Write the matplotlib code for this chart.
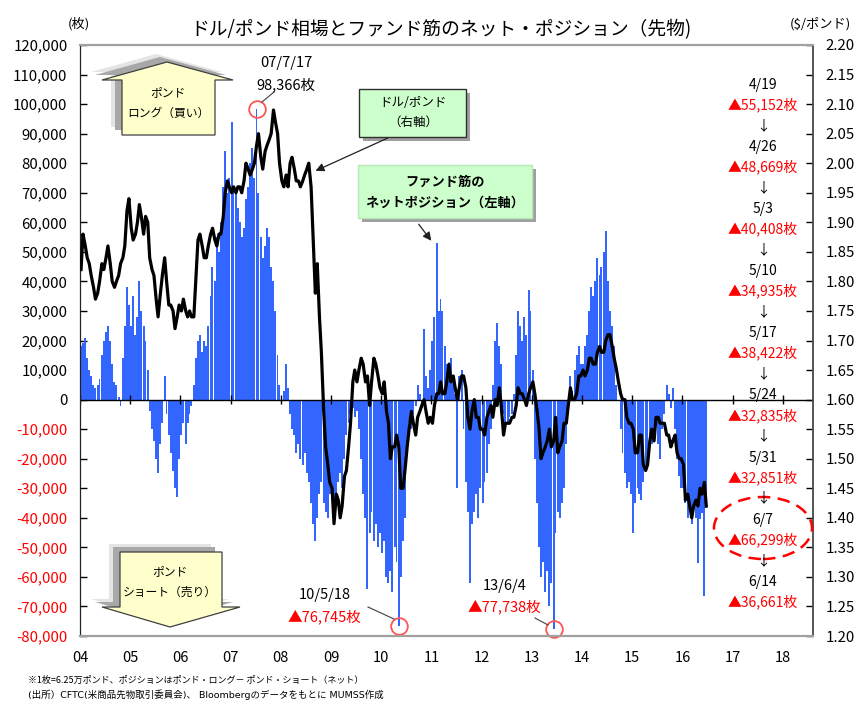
import numpy as np
import pandas as pd
import matplotlib
matplotlib.use('Agg')
import matplotlib.pyplot as plt
from matplotlib.patches import Polygon, Ellipse, Rectangle, FancyArrowPatch

plt.rcParams['font.family'] = ['Noto Sans CJK JP', 'DejaVu Sans']

# ---------------- data (semi-monthly, 1st and 15th of each month) ----------------
bars_2004 = [18, 19, 21, 14, 10, 8, 5, 4, 5, 7, 15, 20, 23, 25, 20, 12, 6, 5, 1, -2, 14, 25, 38, 32]
bars_2005 = [25, 35, 22, 28, 40, 30, 25, 20, 10, -4, -10, -14, -20, -25, -15, -8, 8, -5, -12, -18, -24, -30, -33, -20]
bars_2006 = [-12, -8, -15, -8, -5, -2, 5, 14, 20, 22, 16, 20, 18, 25, 35, 45, 40, 55, 50, 60, 72, 84, 70, 75]
bars_2007 = [94, 72, 70, 65, 60, 55, 58, 68, 72, 80, 85, 75, 98.366, 70, 55, 48, 52, 58, 55, 45, 40, 30, 15, 5]
bars_2008 = [0, 3, 12, 4, -5, -10, -12, -18, -15, -20, -22, -18, -25, -28, -35, -42, -48, -40, -32, -28, -35, -38, -40, -32]
bars_2009 = [-30, -38, -32, -28, -25, -30, -20, -12, -8, -5, -3, -6, -4, -10, -20, -32, -40, -64, -45, -38, -48, -42, -50, -45]
bars_2010 = [-52, -48, -60, -62, -58, -65, -50, -55, -76.745, -60, -48, -40, -15, -8, -10, -5, -2, 5, 2, -3, 24, 8, 4, 10]
bars_2011 = [20, 28, 53, 30, 34, 30, 18, 12, 10, 14, 6, 2, -30, 8, 10, -10, -28, -38, -62, -42, -38, -32, -40, -30]
bars_2012 = [-35, -28, -25, -15, -10, 5, 20, 26, 18, 12, -5, -10, -8, -6, -5, 2, 15, 30, 25, 20, 28, 22, 37, 30]
bars_2013 = [10, -20, -35, -50, -60, -55, -65, -58, -70, -62, -77.738, -45, -38, -40, -35, -30, -15, 0, 8, 3, 10, 15, 18, 12]
bars_2014 = [12, 18, 22, 30, 38, 35, 40, 48, 42, 45, 50, 57, 40, 30, 25, 18, 5, 0, -10, -18, -25, -30, -28, -32]
bars_2015 = [-45, -35, -30, -32, -34, -28, -22, -18, -12, -15, -10, -8, -15, -20, -10, -5, 5, 2, -3, 4, -10, -20, -26, -30]
bars_2016 = [-30, -35, -40, -38, -42, -35, -40, -55.152, -40.408, -38.422, -66.299, -36.661]

gbp_2004 = [1.82, 1.88, 1.86, 1.84, 1.83, 1.81, 1.79, 1.77, 1.78, 1.80, 1.83, 1.82, 1.84, 1.86, 1.83, 1.80, 1.79, 1.80, 1.81, 1.83, 1.84, 1.86, 1.92, 1.94]
gbp_2005 = [1.89, 1.87, 1.88, 1.90, 1.93, 1.91, 1.88, 1.91, 1.90, 1.84, 1.82, 1.81, 1.77, 1.74, 1.78, 1.81, 1.84, 1.80, 1.76, 1.76, 1.75, 1.72, 1.74, 1.76]
gbp_2006 = [1.75, 1.77, 1.75, 1.74, 1.75, 1.74, 1.74, 1.80, 1.87, 1.88, 1.86, 1.84, 1.84, 1.86, 1.88, 1.89, 1.87, 1.86, 1.88, 1.88, 1.91, 1.95, 1.97, 1.96]
gbp_2007 = [1.95, 1.96, 1.95, 1.96, 1.96, 1.95, 1.97, 2.00, 1.99, 1.98, 1.99, 2.00, 2.03, 2.05, 2.01, 1.99, 2.02, 2.03, 2.04, 2.05, 2.09, 2.07, 2.05, 2.00]
gbp_2008 = [1.97, 1.96, 1.98, 1.96, 2.00, 2.01, 1.99, 1.97, 1.97, 1.96, 1.97, 1.98, 1.99, 2.00, 1.96, 1.88, 1.78, 1.83, 1.74, 1.68, 1.58, 1.52, 1.49, 1.46]
gbp_2009 = [1.45, 1.39, 1.44, 1.43, 1.40, 1.42, 1.47, 1.48, 1.52, 1.56, 1.63, 1.65, 1.63, 1.65, 1.67, 1.66, 1.63, 1.64, 1.59, 1.63, 1.67, 1.66, 1.64, 1.62]
gbp_2010 = [1.61, 1.63, 1.58, 1.56, 1.50, 1.52, 1.52, 1.54, 1.52, 1.45, 1.45, 1.48, 1.52, 1.55, 1.58, 1.56, 1.54, 1.57, 1.58, 1.59, 1.60, 1.58, 1.56, 1.57]
gbp_2011 = [1.56, 1.59, 1.61, 1.61, 1.63, 1.61, 1.61, 1.63, 1.66, 1.63, 1.64, 1.62, 1.60, 1.62, 1.64, 1.64, 1.62, 1.57, 1.55, 1.58, 1.60, 1.57, 1.57, 1.55]
gbp_2012 = [1.55, 1.54, 1.57, 1.58, 1.59, 1.57, 1.60, 1.59, 1.62, 1.59, 1.54, 1.56, 1.56, 1.56, 1.57, 1.57, 1.59, 1.62, 1.61, 1.61, 1.60, 1.59, 1.61, 1.62]
gbp_2013 = [1.63, 1.61, 1.58, 1.55, 1.50, 1.51, 1.52, 1.53, 1.55, 1.52, 1.53, 1.57, 1.51, 1.52, 1.53, 1.56, 1.56, 1.59, 1.62, 1.60, 1.60, 1.61, 1.64, 1.64]
gbp_2014 = [1.65, 1.64, 1.65, 1.67, 1.67, 1.66, 1.66, 1.68, 1.69, 1.68, 1.68, 1.70, 1.71, 1.71, 1.69, 1.67, 1.65, 1.63, 1.61, 1.60, 1.60, 1.57, 1.56, 1.56]
gbp_2015 = [1.55, 1.51, 1.51, 1.54, 1.54, 1.49, 1.48, 1.49, 1.53, 1.55, 1.53, 1.57, 1.57, 1.56, 1.56, 1.56, 1.54, 1.54, 1.52, 1.53, 1.54, 1.51, 1.50, 1.50]
gbp_2016 = [1.49, 1.43, 1.44, 1.42, 1.40, 1.42, 1.43, 1.42, 1.45, 1.44, 1.46, 1.42]

net_position = np.array(bars_2004 + bars_2005 + bars_2006 + bars_2007 + bars_2008 + bars_2009 + bars_2010 +
                        bars_2011 + bars_2012 + bars_2013 + bars_2014 + bars_2015 + bars_2016) * 1000
gbpusd = np.array(gbp_2004 + gbp_2005 + gbp_2006 + gbp_2007 + gbp_2008 + gbp_2009 + gbp_2010 +
                  gbp_2011 + gbp_2012 + gbp_2013 + gbp_2014 + gbp_2015 + gbp_2016)

dates = pd.date_range('2004-01-01', periods=len(net_position), freq='SMS')
tyear = np.array(dates.year + (dates.dayofyear - 1) / np.where(dates.is_leap_year, 366, 365), dtype=float)

year_ticks = list(range(2004, 2019))
year_labels = ['04', '05', '06', '07', '08', '09', '10', '11', '12', '13', '14', '15', '16', '17', '18']
left_ticks = list(range(-80000, 120001, 10000))
right_ticks = [round(1.20 + 0.05 * i, 2) for i in range(21)]

recent_dates = ['4/19', '4/26', '5/3', '5/10', '5/17', '5/24', '5/31', '6/7', '6/14']
recent_values = ['▲55,152枚', '▲48,669枚', '▲40,408枚', '▲34,935枚', '▲38,422枚',
                 '▲32,835枚', '▲32,851枚', '▲66,299枚', '▲36,661枚']

# ---------------- figure ----------------
W, H = 867, 702
fig = plt.figure(figsize=(W / 100, H / 100), dpi=100)
fig.patch.set_facecolor('white')


def fx(x):
    return x / W


def fy(y):
    return 1 - y / H


ax = fig.add_axes([fx(80), fy(636), (813 - 80) / W, (636 - 45) / H])
ax2 = ax.twinx()

BLUE = '#3366FF'
RED = '#FF0000'
step = 1 / 24
ax.bar(tyear, net_position, width=step * 0.92, align='edge', color=BLUE, edgecolor='none', linewidth=0, zorder=2)
ax.axhline(0, color='black', lw=1.0, zorder=3)
ax.vlines(year_ticks, -1400, 1400, color='black', lw=1.0, zorder=3)

ax.set_xlim(2004, 2018.6)
ax.set_ylim(-80000, 120000)
ax.set_xticks(year_ticks)
ax.set_xticklabels(year_labels)
ax.tick_params(axis='x', length=0, pad=11, labelsize=10.5)
ax.set_yticks(left_ticks)
ax.set_yticklabels([f'{v:,}' for v in left_ticks])
ax.tick_params(axis='y', direction='in', length=5, width=1, pad=9, labelsize=10.8)
for lab, v in zip(ax.get_yticklabels(), left_ticks):
    if v < 0:
        lab.set_color(RED)

ax2.plot(tyear + step / 2, gbpusd, color='black', lw=2.3, solid_joinstyle='round', zorder=4)
ax2.set_ylim(1.20, 2.20)
ax2.set_yticks(right_ticks)
ax2.set_yticklabels([f'{v:.2f}' for v in right_ticks])
ax2.tick_params(axis='y', direction='in', length=5, width=1, pad=9, labelsize=10.8)

for a in (ax, ax2):
    a.spines['top'].set_color('#A0A0A0')
    a.spines['bottom'].set_color('#A0A0A0')
    a.spines['top'].set_linewidth(1.5)
    a.spines['bottom'].set_linewidth(1.5)
    a.spines['left'].set_color('#222222')
    a.spines['right'].set_color('#555555')
    a.spines['right'].set_linewidth(1.2)

# circles at extremes
i_max = int(np.argmax(net_position))
i_min10 = int(np.argmin(np.where((tyear > 2010) & (tyear < 2011), net_position, 0)))
i_min13 = int(np.argmin(np.where((tyear > 2013) & (tyear < 2014), net_position, 0)))
for i in (i_max, i_min10, i_min13):
    ax.plot(tyear[i] + step / 2, net_position[i], 'o', ms=12, mfc='none', mec='#FF5555', mew=1.3, zorder=6,
            clip_on=False)

# ---------------- texts ----------------
fig.text(fx(441), fy(30), 'ドル/ポンド相場とファンド筋のネット・ポジション（先物)', ha='center', va='center',
         fontsize=13.5)
fig.text(fx(79), fy(24), '(枚)', ha='center', va='center', fontsize=9.5)
fig.text(fx(820), fy(24), '($/ポンド)', ha='center', va='center', fontsize=9.5)

fig.text(fx(28), fy(680), '※1枚=6.25万ポンド、ポジションはポンド・ロング－ ポンド・ショート（ネット）',
         ha='left', va='center', fontsize=6.5)
fig.text(fx(28), fy(695), '(出所）CFTC(米商品先物取引委員会)、 Bloombergのデータをもとに MUMSS作成',
         ha='left', va='center', fontsize=6.8, family=['DejaVu Sans', 'Noto Sans CJK JP'])

# peak / trough annotations
fig.text(fx(286), fy(63), '07/7/17', ha='center', va='center', fontsize=10.5)
fig.text(fx(286), fy(85), '98,366枚', ha='center', va='center', fontsize=10.5)
fig.text(fx(325), fy(595), '10/5/18', ha='center', va='center', fontsize=10.5)
fig.text(fx(324), fy(617), '▲76,745枚', ha='center', va='center', fontsize=10.5, color=RED)
fig.text(fx(505), fy(586), '13/6/4', ha='center', va='center', fontsize=10.5)
fig.text(fx(504), fy(607), '▲77,738枚', ha='center', va='center', fontsize=10.5, color=RED)


def seg(x0, y0, x1, y1, **kw):
    fig.add_artist(plt.Line2D([fx(x0), fx(x1)], [fy(y0), fy(y1)], transform=fig.transFigure, **kw))


seg(262, 102, 274, 92, color='#404040', lw=0.8)
seg(368, 607, 394, 619, color='#404040', lw=0.8)
seg(535, 618, 548, 625, color='#404040', lw=0.8)

# right-hand list of recent positions
for k, (d, v) in enumerate(zip(recent_dates, recent_values)):
    y0 = 85 + k * 62.1
    fig.text(fx(763), fy(y0), d, ha='center', va='center', fontsize=10)
    fig.text(fx(763), fy(y0 + 20), v, ha='center', va='center', fontsize=10, color=RED)
    if k < len(recent_dates) - 1:
        fig.text(fx(763), fy(y0 + 41), '↓', ha='center', va='center', fontsize=10)

fig.add_artist(Ellipse((fx(763), fy(528)), 98 / W, 62 / H, transform=fig.transFigure, fill=False,
                       edgecolor=RED, lw=1.8, linestyle=(0, (5, 3))))


# ---------------- arrow shapes ----------------
def poly(pts, dx=0, dy=0, **kw):
    fig.add_artist(Polygon([(fx(a + dx), fy(b + dy)) for a, b in pts], closed=True,
                           transform=fig.transFigure, **kw))


up_pts = [(122, 135), (122, 80), (102, 80), (167, 62), (233, 80), (215, 80), (215, 135)]
poly(up_pts, -11, -8, facecolor='#E4E4E4', edgecolor='none')
poly(up_pts, -7, -5, facecolor='#A8A8A8', edgecolor='none')
poly(up_pts, facecolor='#FFFFCC', edgecolor='#404040', lw=0.9)
fig.text(fx(168), fy(93), 'ポンド', ha='center', va='center', fontsize=8.5)
fig.text(fx(168), fy(113), 'ロング（買い）', ha='center', va='center', fontsize=8.5)

dn_pts = [(120, 552), (222, 552), (222, 607), (240, 607), (170, 627), (102, 607), (120, 607)]
poly(dn_pts, -11, -8, facecolor='#E4E4E4', edgecolor='none')
poly(dn_pts, -7, -5, facecolor='#A8A8A8', edgecolor='none')
poly(dn_pts, facecolor='#FFFFCC', edgecolor='#404040', lw=0.9)
fig.text(fx(170), fy(572), 'ポンド', ha='center', va='center', fontsize=8.5)
fig.text(fx(170), fy(592), 'ショート（売り）', ha='center', va='center', fontsize=8.5)


def box(x0, y0, x1, y1, edge):
    fig.add_artist(Rectangle((fx(x0 + 4), fy(y1 + 4)), (x1 - x0) / W, (y1 - y0) / H,
                             transform=fig.transFigure, facecolor='#A0A0A0', edgecolor='none'))
    fig.add_artist(Rectangle((fx(x0), fy(y1)), (x1 - x0) / W, (y1 - y0) / H,
                             transform=fig.transFigure, facecolor='#CCFFCC', edgecolor=edge, lw=1.0))


box(359, 89, 466, 137, '#303030')
fig.text(fx(413), fy(102), 'ドル/ポンド', ha='center', va='center', fontsize=9)
fig.text(fx(413), fy(122), '（右軸）', ha='center', va='center', fontsize=9)

box(358, 165, 532, 218, '#B8E8B8')
fig.text(fx(445), fy(182), 'ファンド筋の', ha='center', va='center', fontsize=9.5, fontweight='bold')
fig.text(fx(445), fy(203), 'ネットポジション（左軸）', ha='center', va='center', fontsize=9.5, fontweight='bold')

fig.add_artist(FancyArrowPatch((fx(390), fy(137)), (fx(313), fy(172)), transform=fig.transFigure,
                               arrowstyle='-|>,head_length=5,head_width=2.5', color='#202020', lw=0.9))
fig.add_artist(FancyArrowPatch((fx(417), fy(222)), (fx(433), fy(243)), transform=fig.transFigure,
                               arrowstyle='-|>,head_length=5,head_width=2.5', color='#202020', lw=0.9))

fig.savefig('out.png', dpi=100, facecolor='white')
